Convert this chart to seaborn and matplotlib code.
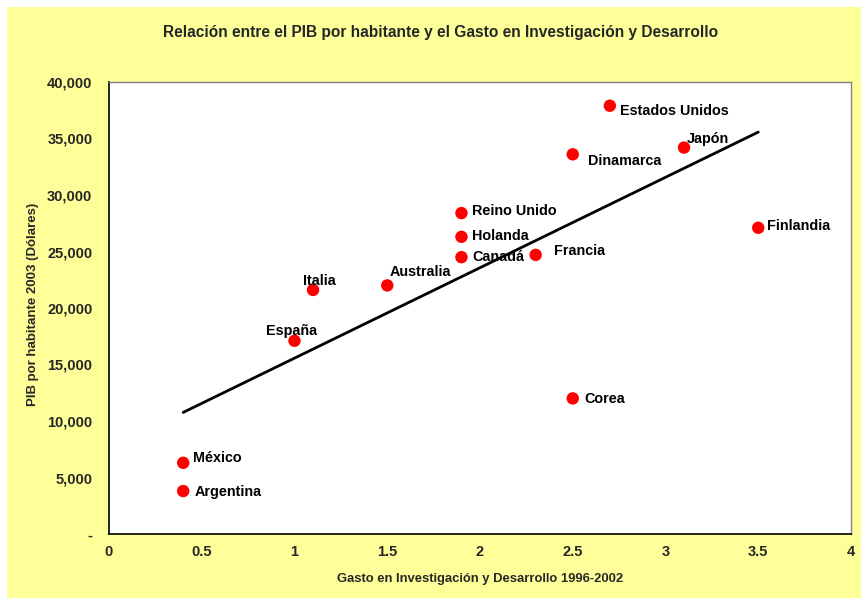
import numpy as np
import pandas as pd
import matplotlib
matplotlib.use("Agg")
import matplotlib.pyplot as plt
import seaborn as sns
from matplotlib.ticker import FuncFormatter

# Data
paises = ['Estados Unidos', 'Japón', 'Dinamarca', 'Finlandia', 'Reino Unido',
          'Holanda', 'Canadá', 'Francia', 'Australia', 'Italia', 'España',
          'Corea', 'México', 'Argentina']
gasto_id = [2.7, 3.1, 2.5, 3.5, 1.9, 1.9, 1.9, 2.3, 1.5, 1.1, 1.0, 2.5, 0.4, 0.4]
pib_hab = [37900, 34200, 33600, 27100, 28400, 26300, 24500, 24700, 22000,
           21600, 17100, 12000, 6300, 3800]

# label offsets in pixels (dx, dy) relative to each point
offsets = {'Estados Unidos': (10, -5), 'Japón': (3, 9), 'Dinamarca': (15, -7),
           'Finlandia': (9, 2), 'Reino Unido': (11, 2), 'Holanda': (11, 1),
           'Canadá': (11, 0), 'Francia': (18, 4), 'Australia': (2, 13),
           'Italia': (-10, 9), 'España': (-28, 10), 'Corea': (12, -1),
           'México': (10, 5), 'Argentina': (11, -1)}

df = pd.DataFrame({'pais': paises, 'gasto': gasto_id, 'pib': pib_hab})

sns.set_style('white')
plt.rcParams['font.family'] = ['Liberation Sans', 'DejaVu Sans']
plt.rcParams['font.weight'] = 'bold'

fig = plt.figure(figsize=(8.62, 5.98), dpi=100)
fig.patch.set_facecolor('white')
fig.patches.append(plt.Rectangle((7 / 862, 0), 1, 1 - 7 / 598, transform=fig.transFigure,
                                 facecolor='#FFFF99', edgecolor='none', zorder=-10))

ax = fig.add_axes([109 / 862, 1 - 534 / 598, (851 - 109) / 862, (534 - 82) / 598])
ax.set_facecolor('white')

# Trend line (least squares fit, truncated to data range)
sns.regplot(data=df, x='gasto', y='pib', scatter=False, ci=None, truncate=True,
            color='black', line_kws={'linewidth': 2}, ax=ax)
sns.scatterplot(data=df, x='gasto', y='pib', color='#FF0000', s=80,
                edgecolor='none', ax=ax, zorder=3)

for _, r in df.iterrows():
    dx, dy = offsets[r['pais']]
    ax.annotate(r['pais'], (r['gasto'], r['pib']), xytext=(dx, dy),
                textcoords='offset pixels', ha='left', va='center',
                fontsize=10.4, fontweight='bold', color='black')

ax.set_xlim(0, 4)
ax.set_ylim(0, 40000)
ax.set_xticks(np.arange(0, 4.01, 0.5))
ax.set_yticks(np.arange(0, 40001, 5000))
ax.xaxis.set_major_formatter(FuncFormatter(lambda v, p: f'{v:g}'))
ax.yaxis.set_major_formatter(FuncFormatter(lambda v, p: '-' if v == 0 else f'{v:,.0f}'))
ax.tick_params(axis='both', which='major', direction='out', length=3.5, width=1,
               labelsize=10.5, color='black', pad=4.5)
ax.tick_params(axis='y', pad=8.5)
for lab in ax.get_xticklabels() + ax.get_yticklabels():
    lab.set_fontweight('bold')

for side in ['left', 'bottom']:
    ax.spines[side].set_color('black')
    ax.spines[side].set_linewidth(1.2)
for side in ['top', 'right']:
    ax.spines[side].set_color('#808080')
    ax.spines[side].set_linewidth(1)

ax.set_xlabel('Gasto en Investigación y Desarrollo 1996-2002', fontsize=9.4,
              fontweight='bold', labelpad=10)
ax.set_ylabel('PIB por habitante 2003 (Dólares)', fontsize=9.5,
              fontweight='bold', labelpad=5.7)
ax.yaxis.label.set_y(0.508)

fig.text(441 / 862, 1 - 33 / 598, 'Relación entre el PIB por habitante y el Gasto en Investigación y Desarrollo',
         ha='center', va='center', fontsize=11.2, fontweight='bold')

fig.savefig('out.png', dpi=100)
